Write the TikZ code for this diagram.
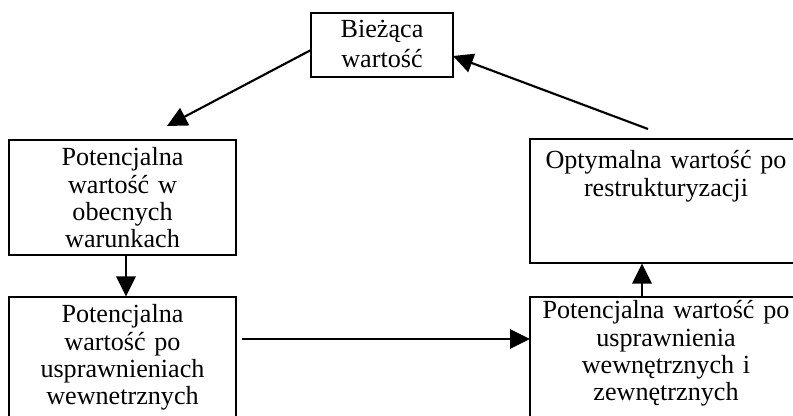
\documentclass[tikz,border=0pt]{standalone}
\usepackage{fontspec}
\setmainfont{Liberation Serif}
\usetikzlibrary{arrows.meta}
\begin{document}
\begin{tikzpicture}[x=0.75pt,y=-0.75pt,
  box/.style={draw,line width=0.9pt,inner sep=0pt,rectangle},
  txt/.style={inner sep=0pt,anchor=base,align=center,text width=210pt,
    font=\fontsize{19.6}{20.3}\selectfont},
  arr/.style={line width=1.6pt,-{Triangle[length=15pt,width=14.5pt]}}]
\useasboundingbox (0,0) rectangle (793,416);
\clip (0,0) rectangle (793,416);
% boxes
\node[box,minimum width=106.5pt,minimum height=48pt] (top) at (382,45) {};
\node[box,minimum width=170.25pt,minimum height=86.25pt] (lt) at (122.5,197.5) {};
\node[box,minimum width=170.25pt,minimum height=107.25pt] (lb) at (122.5,368.5) {};
\node[box,minimum width=204pt,minimum height=93pt] (rt) at (666,201) {};
\node[box,minimum width=204pt,minimum height=107.25pt] (rb) at (666,368.5) {};
% texts
\node[txt,font=\fontsize{19.6}{22.5}\selectfont] (ttop) at (382,38) {Bieżąca\\wartość};
\node[txt] (tlt) at (122.5,166) {Potencjalna\\wartość w\\obecnych\\warunkach};
\node[txt] (tlb) at (122.5,323) {Potencjalna\\wartość po\\usprawnieniach\\wewnetrznych};
\node[txt] (trt) at (666,169) {Optymalna wartość po\\restrukturyzacji};
\node[txt] (trb) at (666,319) {Potencjalna wartość po\\usprawnienia\\wewnętrznych i\\zewnętrznych};
% connector end points
\coordinate (a1s) at (311,50);
\coordinate (a1e) at (167,126);
\coordinate (a2s) at (648,129);
\coordinate (a2e) at (453,56);
\coordinate (hs) at (242,339);
\coordinate (he) at (530,339);
% connectors
\draw[arr] (a1s) -- (a1e);
\draw[arr] (a2s) -- (a2e);
\draw[arr] (lt.south -| 126,0) -- (lb.north -| 126,0);
\draw[arr] (rb.north -| 642,0) -- (rt.south -| 642,0);
\draw[arr] (hs) -- (he);
\end{tikzpicture}
\end{document}
